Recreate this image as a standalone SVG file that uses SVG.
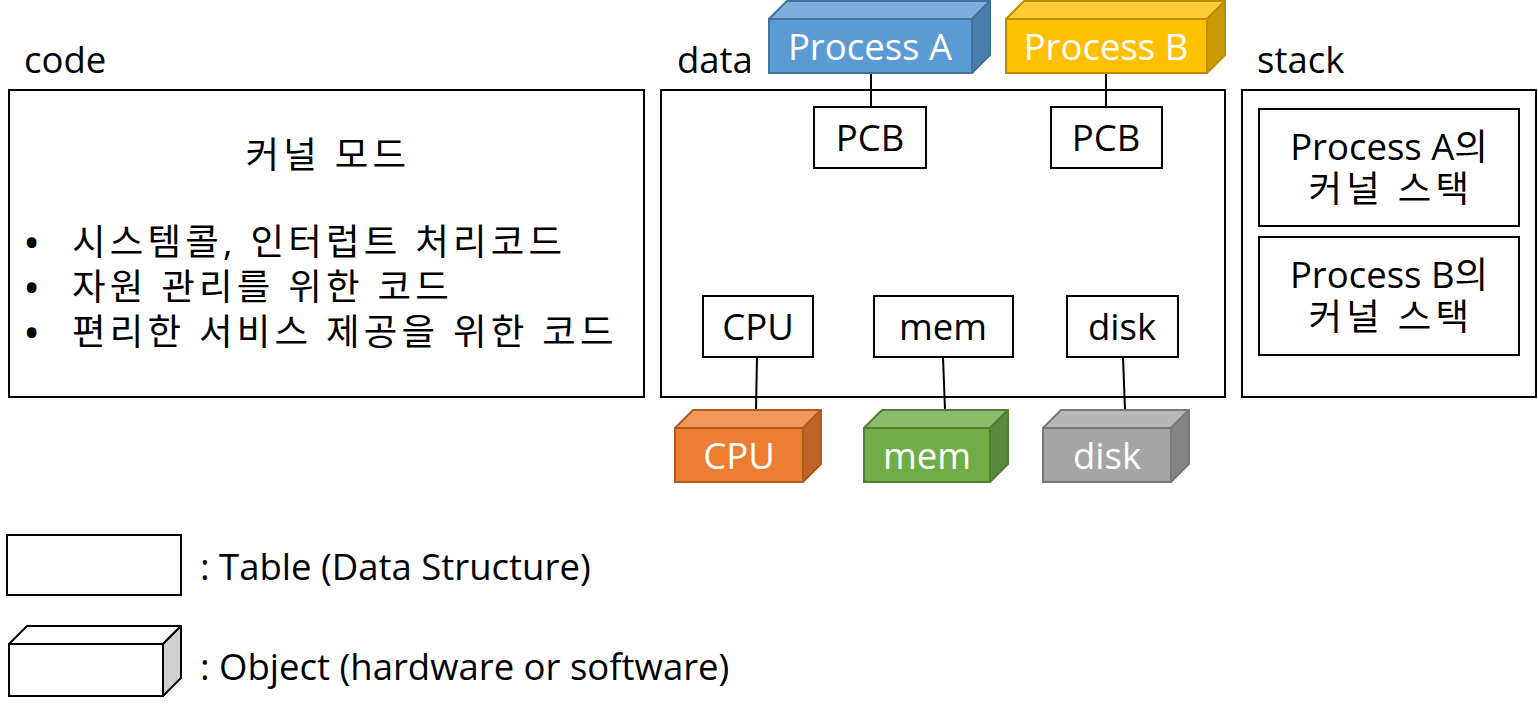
<svg xmlns="http://www.w3.org/2000/svg" width="1538" height="713" viewBox="0 0 1538 713">
<style>
text{font-family:"Open Sans","Noto Sans CJK KR",sans-serif;fill:#000;font-size:36.5px}
.k{letter-spacing:4.2px}
.c{text-anchor:middle}
.w{fill:#fff;text-anchor:middle}
.b{font-size:46px}
.box{fill:#fff;stroke:#000;stroke-width:2}
.ln{stroke:#000;stroke-width:2;fill:none}
.cube{stroke-width:2;stroke-linejoin:round}
</style>
<rect width="1538" height="713" fill="#fff"/>

<g id="code-region">
<text x="24" y="73">code</text>
<rect class="box" x="9" y="90" width="635" height="307"/>
<text class="k c" x="328" y="168">커널 모드</text>
<text class="b" x="23" y="259">•</text>
<text class="k" x="72" y="255">시스템콜, 인터럽트 처리코드</text>
<text class="b" x="23" y="304">•</text>
<text class="k" x="72" y="300">자원 관리를 위한 코드</text>
<text class="b" x="23" y="349">•</text>
<text class="k" x="72" y="345">편리한 서비스 제공을 위한 코드</text>
</g>

<g id="data-region">
<text x="677" y="73">data</text>
<rect class="box" x="661" y="90" width="564" height="307"/>
</g>

<g id="stack-region">
<text x="1257" y="73">stack</text>
<rect class="box" x="1242" y="90" width="294" height="307"/>
</g>

<g id="stackA">
<rect class="box" x="1259" y="109" width="260" height="117"/>
<text class="c" x="1389" y="160">Process A의</text>
<text class="k c" x="1391" y="202">커널 스택</text>
</g>
<g id="stackB">
<rect class="box" x="1259" y="237" width="260" height="118"/>
<text class="c" x="1389" y="288">Process B의</text>
<text class="k c" x="1391" y="330">커널 스택</text>
</g>

<g id="connectors">
<line class="ln" x1="871" y1="73" x2="871" y2="107"/>
<line class="ln" x1="1106" y1="73" x2="1106" y2="107"/>
<line class="ln" x1="757" y1="357" x2="756" y2="410"/>
<line class="ln" x1="943" y1="357" x2="945" y2="410"/>
<line class="ln" x1="1123" y1="357" x2="1125" y2="410"/>
</g>

<g id="pcbA">
<rect class="box" x="814" y="107" width="112" height="61"/>
<text class="c" x="870" y="151">PCB</text>
</g>
<g id="pcbB">
<rect class="box" x="1051" y="107" width="111" height="61"/>
<text class="c" x="1106" y="151">PCB</text>
</g>
<g id="cpuT">
<rect class="box" x="703" y="296" width="110" height="61"/>
<text class="c" x="758" y="340">CPU</text>
</g>
<g id="memT">
<rect class="box" x="874" y="296" width="139" height="61"/>
<text class="c" x="943" y="340">mem</text>
</g>
<g id="diskT">
<rect class="box" x="1067" y="296" width="111" height="61"/>
<text class="c" x="1122" y="340">disk</text>
</g>

<g id="processA">
<polygon class="cube" points="769,19 787,1 990,1 972,19" fill="#7CAFDD" stroke="#41719C"/>
<polygon class="cube" points="972,19 990,1 990,55 972,73" fill="#4A7EAE" stroke="#41719C"/>
<rect x="769" y="19" width="203" height="54" fill="#5B9BD5" stroke="#41719C" stroke-width="2"/>
<text class="w" x="870" y="60">Process A</text>
</g>
<g id="processB">
<polygon class="cube" points="1006,19 1024,1 1225,1 1207,19" fill="#FFCD33" stroke="#BC8C00"/>
<polygon class="cube" points="1207,19 1225,1 1225,55 1207,73" fill="#CC9A00" stroke="#BC8C00"/>
<rect x="1006" y="19" width="201" height="54" fill="#FFC000" stroke="#BC8C00" stroke-width="2"/>
<text class="w" x="1106" y="60">Process B</text>
</g>

<g id="cpuO">
<polygon class="cube" points="675,428 693,410 821,410 803,428" fill="#F1975A" stroke="#AE5A21"/>
<polygon class="cube" points="803,428 821,410 821,464 803,482" fill="#BE6428" stroke="#AE5A21"/>
<rect x="675" y="428" width="128" height="54" fill="#ED7D31" stroke="#AE5A21" stroke-width="2"/>
<text class="w" x="739" y="469">CPU</text>
</g>
<g id="memO">
<polygon class="cube" points="864,428 882,410 1008,410 990,428" fill="#8CBD6B" stroke="#507E32"/>
<polygon class="cube" points="990,428 1008,410 1008,464 990,482" fill="#5A8A39" stroke="#507E32"/>
<rect x="864" y="428" width="126" height="54" fill="#70AD47" stroke="#507E32" stroke-width="2"/>
<text class="w" x="927" y="469">mem</text>
</g>
<g id="diskO">
<polygon class="cube" points="1043,428 1061,410 1189,410 1171,428" fill="#B7B7B7" stroke="#787878"/>
<polygon class="cube" points="1171,428 1189,410 1189,464 1171,482" fill="#848484" stroke="#787878"/>
<rect x="1043" y="428" width="128" height="54" fill="#A5A5A5" stroke="#787878" stroke-width="2"/>
<text class="w" x="1107" y="469">disk</text>
</g>

<g id="legend-table">
<rect class="box" x="7" y="535" width="174" height="60"/>
<text x="200" y="580">: Table (Data Structure)</text>
</g>
<g id="legend-object">
<polygon class="cube" points="9,644 27,626 181,626 163,644" fill="#fff" stroke="#000"/>
<polygon class="cube" points="163,644 181,626 181,678 163,696" fill="#D0D0D0" stroke="#000"/>
<rect x="9" y="644" width="154" height="52" fill="#fff" stroke="#000" stroke-width="2"/>
<text x="200" y="680">: Object (hardware or software)</text>
</g>
</svg>
